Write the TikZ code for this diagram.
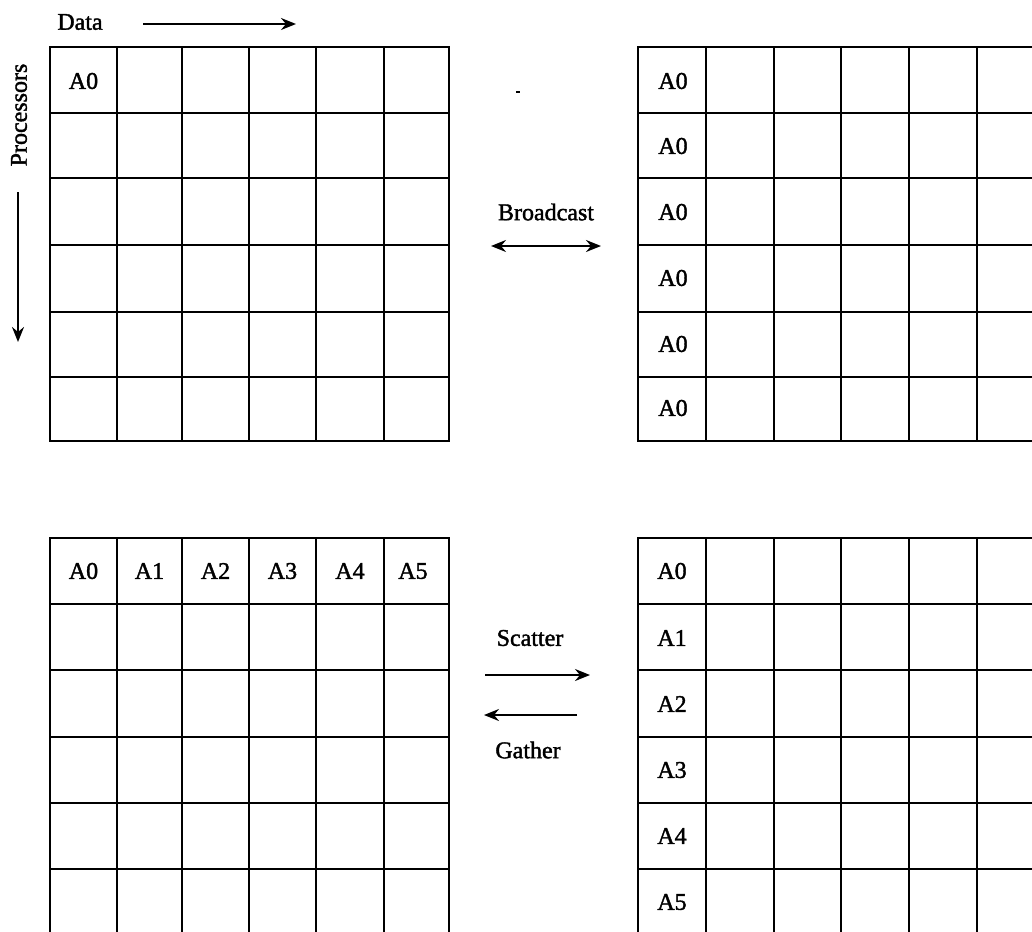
\documentclass[tikz,border=0pt]{standalone}
\usepackage{fontspec}
\setmainfont{Liberation Serif}[FakeBold=1.6]
\usetikzlibrary{arrows.meta}
\begin{document}
\begin{tikzpicture}[x=1pt,y=-1pt,
  gridline/.style={line width=2.6pt, line cap=rect},
  lbl/.style={font=\fontsize{24}{28}\selectfont, inner sep=0pt},
  tip/.tip={Stealth[length=15pt,width=12pt,inset=5pt]},
  arr/.style={line width=2.2pt,-tip},
  darr/.style={line width=2.2pt,tip-tip}]
\useasboundingbox (0,0) rectangle (1032,931);
\clip (0,0) rectangle (1032,931);

% ---------- top-left grid ----------
\foreach \x in {50,117,182,249,316,384,449} \draw[gridline] (\x,47) -- (\x,441);
\foreach \y in {47,113,178,245,312,377,441} \draw[gridline] (50,\y) -- (449,\y);
\node[lbl] (tl) at (83.5,81) {A0};

% ---------- top-right grid ----------
\foreach \x in {638,706,774,841,909,977} \draw[gridline] (\x,47) -- (\x,441);
\foreach \y in {47,113,178,245,312,377,441} \draw[gridline] (638,\y) -- (1045,\y);
\foreach \y/\n in {81/1,146/2,212/3,278/4,344/5,408/6}
  \node[lbl] (tr\n) at (673,\y) {A0};

% ---------- bottom-left grid ----------
\foreach \x in {50,117,182,249,316,384,449} \draw[gridline] (\x,538) -- (\x,940);
\foreach \y in {538,604,670,737,803,869} \draw[gridline] (50,\y) -- (449,\y);
\foreach \x/\n in {83.5/0,149.5/1,215.5/2,282.5/3,350/4,413/5}
  \node[lbl] (bl\n) at (\x,571) {A\n};

% ---------- bottom-right grid ----------
\foreach \x in {638,706,774,841,909,977} \draw[gridline] (\x,538) -- (\x,940);
\foreach \y in {538,604,670,737,803,869} \draw[gridline] (638,\y) -- (1045,\y);
\foreach \y/\n in {571/0,638/1,704/2,770/3,836/4,902/5}
  \node[lbl] (br\n) at (672,\y) {A\n};

% ---------- axis labels ----------
\node[lbl] (data) at (80,22) {Data};
\coordinate (d1) at (143,24);
\coordinate (d2) at (296,24);
\draw[arr] (d1) -- (d2);

\node[lbl, rotate=90] (proc) at (19,115) {Processors};
\coordinate (p1) at (18,192);
\coordinate (p2) at (18,342);
\draw[arr] (p1) -- (p2);

% ---------- operations ----------
\node[lbl] (bcast) at (546,212) {Broadcast};
\coordinate (b1) at (491,246);
\coordinate (b2) at (601,246);
\draw[darr] (b1) -- (b2);

\node[lbl] (scat) at (530,638) {Scatter};
\coordinate (s1) at (485,675);
\coordinate (s2) at (590,675);
\draw[arr] (s1) -- (s2);

\node[lbl] (gath) at (528,750) {Gather};
\coordinate (g1) at (577,715);
\coordinate (g2) at (484,715);
\draw[arr] (g1) -- (g2);

% stray mark
\fill (516,91) rectangle (520,93.5);
\end{tikzpicture}
\end{document}
